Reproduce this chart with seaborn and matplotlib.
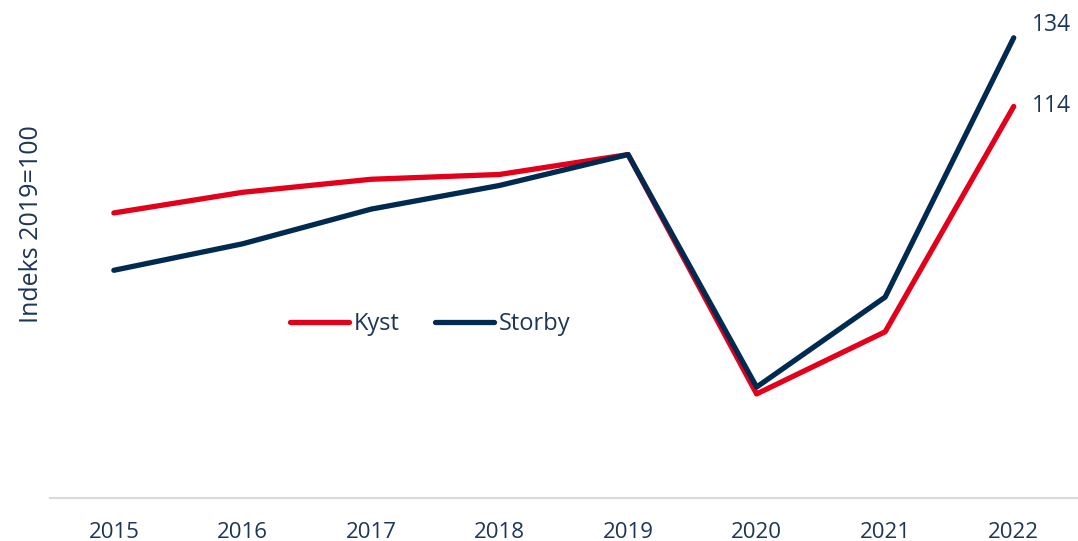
import pandas as pd
import matplotlib.pyplot as plt
import seaborn as sns

years = [2015, 2016, 2017, 2018, 2019, 2020, 2021, 2022]
kyst = [83, 89, 92.8, 94.2, 100, 30.3, 48.4, 114]
storby = [66.3, 74, 84.1, 91, 100, 32.3, 58.5, 134]
series_names = ["Kyst", "Storby"]
colors = {"Kyst": "#e2001a", "Storby": "#002a50"}
text_color = "#1d3557"

df = pd.DataFrame({"year": years * 2,
                   "value": kyst + storby,
                   "series": ["Kyst"] * len(years) + ["Storby"] * len(years)})

sns.set_style("white")
plt.rcParams['font.family'] = ['Open Sans', 'DejaVu Sans']

fig = plt.figure(figsize=(10.78, 5.41), dpi=100)
ax = fig.add_axes([0.046, 0.0795, 0.954, 0.9205])

sns.lineplot(data=df, x="year", y="value", hue="series", hue_order=series_names,
             palette=colors, linewidth=3.8, ax=ax, solid_capstyle="round")

# end labels (right-aligned next to the last point)
ax.annotate(f"{storby[-1]:.0f}", xy=(years[-1], storby[-1]), xytext=(41, 9),
            textcoords="offset points", fontsize=16.5, color=text_color,
            ha="right", va="center")
ax.annotate(f"{kyst[-1]:.0f}", xy=(years[-1], kyst[-1]), xytext=(41, 0),
            textcoords="offset points", fontsize=16.5, color=text_color,
            ha="right", va="center")

ax.set_xlim(2014.5, 2022.5)
ax.set_ylim(0, 145)
ax.set_xticks(years)
ax.set_xticklabels([str(y) for y in years])
ax.set_yticks([])
ax.set_xlabel("")
ax.set_ylabel("Indeks 2019=100", fontsize=18, color=text_color)
ax.yaxis.set_label_coords(-0.005, 0.55)
ax.tick_params(axis="x", labelsize=16, colors=text_color, length=0, pad=17)
for s in ["top", "right", "left"]:
    ax.spines[s].set_visible(False)
ax.spines["bottom"].set_color("#d9d9d9")
ax.spines["bottom"].set_linewidth(1.5)

leg = ax.legend(loc="center", bbox_to_anchor=(0.37, 0.349), ncol=2, frameon=False,
                fontsize=17, handlelength=2.5, handletextpad=0.2, columnspacing=1.5)
for t in leg.get_texts():
    t.set_color(text_color)

fig.savefig("out.png", dpi=100)
